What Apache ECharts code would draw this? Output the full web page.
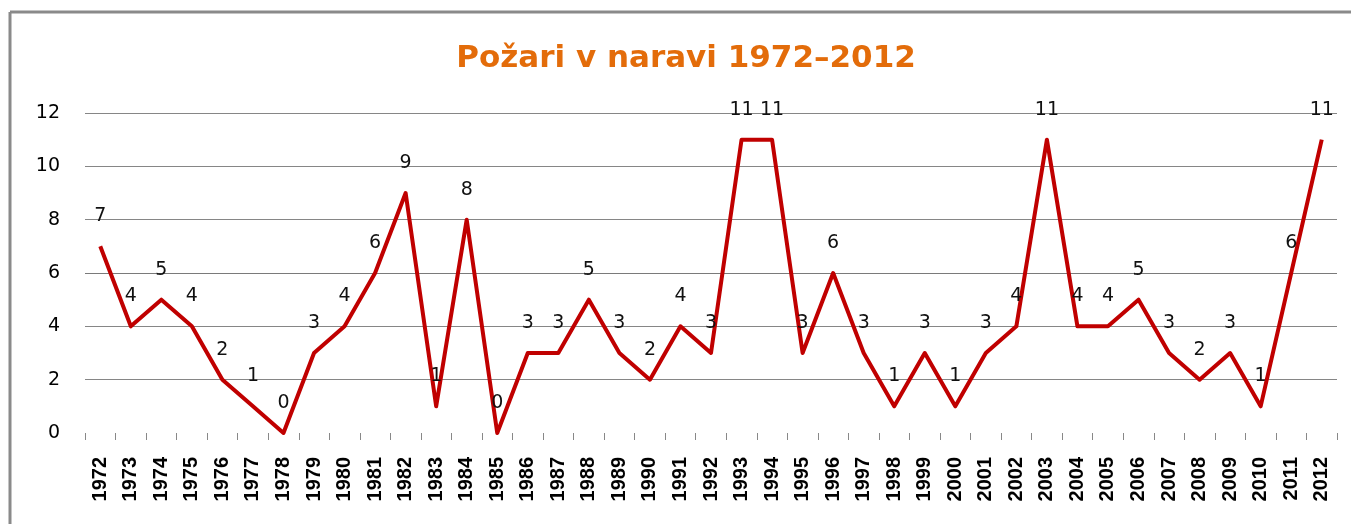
<!DOCTYPE html>
<html>
<head>
<meta charset="utf-8">
<script src="https://cdn.jsdelivr.net/npm/echarts@6/dist/echarts.min.js"></script>
<style>
html,body{margin:0;padding:0;background:#fff;}
#chart{width:1351px;height:524px;}
</style>
</head>
<body>
<div id="chart"></div>
<script>
var titleText = 'Požari v naravi 1972–2012';
var years = ['1972','1973','1974','1975','1976','1977','1978','1979','1980','1981','1982','1983','1984','1985','1986','1987','1988','1989','1990','1991','1992','1993','1994','1995','1996','1997','1998','1999','2000','2001','2002','2003','2004','2005','2006','2007','2008','2009','2010','2011','2012'];
var fires = [7,4,5,4,2,1,0,3,4,6,9,1,8,0,3,3,5,3,2,4,3,11,11,3,6,3,1,3,1,3,4,11,4,4,5,3,2,3,1,6,11];
var yTicks = [0,2,4,6,8,10,12];

var chart = echarts.init(document.getElementById('chart'), null, {renderer:'canvas'});
chart.setOption({
  animation:false,
  backgroundColor:'#ffffff',
  graphic:[
    {type:'line', shape:{x1:10,y1:12,x2:10,y2:524}, style:{stroke:'#8a8a8a', lineWidth:3}},
    {type:'line', shape:{x1:10,y1:12,x2:1351,y2:12}, style:{stroke:'#8a8a8a', lineWidth:3}},
    {type:'text', x:686, y:59, style:{text:titleText, textAlign:'center', textVerticalAlign:'middle',
      fontFamily:'DejaVu Sans', fontWeight:'bold', fontSize:31, fill:'#E36C0A',
      shadowColor:'rgba(120,50,0,0.3)', shadowOffsetX:1, shadowOffsetY:1, shadowBlur:1}}
  ],
  grid:{left:85, right:14, top:113, bottom:91, containLabel:false},
  xAxis:{
    type:'category', data:years, boundaryGap:true, offset:2,
    axisLine:{show:false},
    axisTick:{show:true, alignWithLabel:false, length:7, lineStyle:{color:'#888', width:1}},
    axisLabel:{rotate:90, margin:22, interval:0, color:'#000', fontFamily:'Liberation Sans', fontWeight:'bold', fontSize:20}
  },
  yAxis:{
    type:'value', min:0, max:12, interval:2,
    axisLine:{show:false}, axisTick:{show:false},
    axisLabel:{margin:25, color:'#000', fontFamily:'DejaVu Sans', fontSize:19,
      formatter:function(v){return yTicks.indexOf(v)>=0 ? String(v) : '';}},
    splitLine:{show:true, lineStyle:{color:['rgba(0,0,0,0)','#868686','#868686','#7a7a7a','#868686','#868686','#868686'], width:1}}
  },
  series:[{
    type:'line', data:fires, showSymbol:true, symbol:'circle', symbolSize:1,
    itemStyle:{color:'#C00000', opacity:0},
    lineStyle:{color:'#C00000', width:4, join:'round', opacity:1},
    label:{show:true, position:'top', distance:20, color:'#111', fontFamily:'DejaVu Sans', fontSize:19, opacity:1},
    emphasis:{disabled:true}
  }]
});
</script>
</body>
</html>
